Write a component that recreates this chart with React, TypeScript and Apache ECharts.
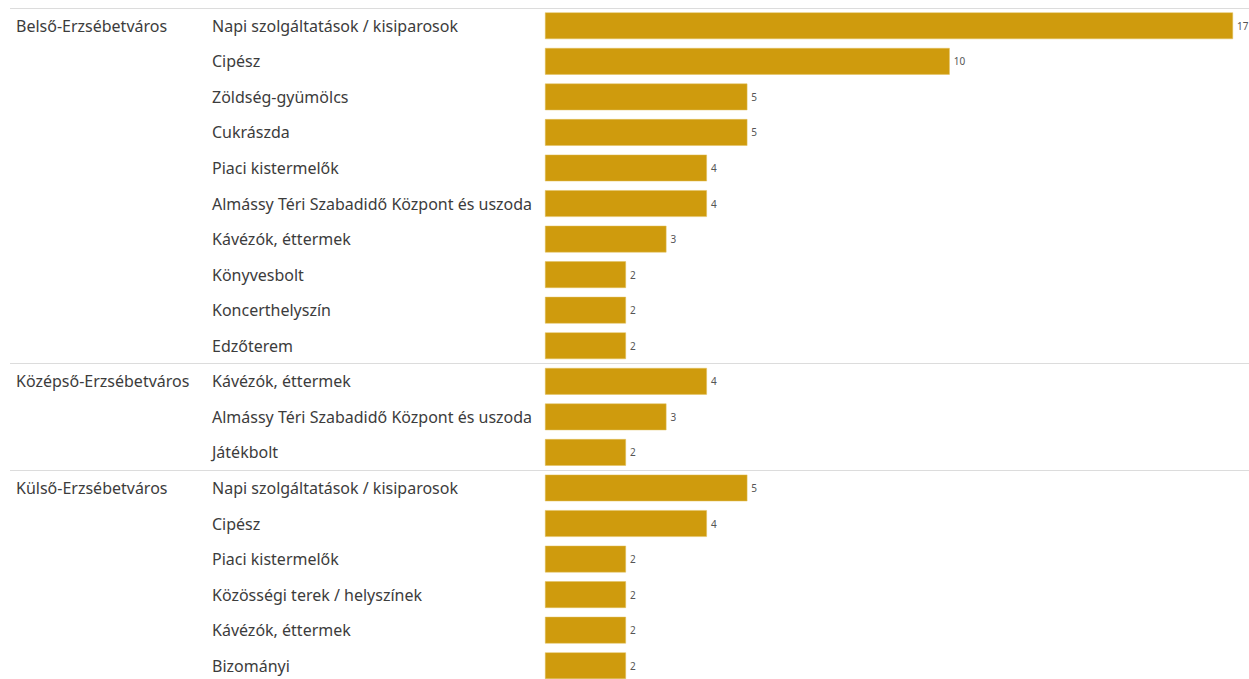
import React, { useEffect, useRef } from "react";
import * as echarts from "echarts";

const groups = ["Belső-Erzsébetváros", "Középső-Erzsébetváros", "Külső-Erzsébetváros"];
const groupCategories = [
  [
    "Napi szolgáltatások / kisiparosok",
    "Cipész",
    "Zöldség-gyümölcs",
    "Cukrászda",
    "Piaci kistermelők",
    "Almássy Téri Szabadidő Központ és uszoda",
    "Kávézók, éttermek",
    "Könyvesbolt",
    "Koncerthelyszín",
    "Edzőterem",
  ],
  ["Kávézók, éttermek", "Almássy Téri Szabadidő Központ és uszoda", "Játékbolt"],
  [
    "Napi szolgáltatások / kisiparosok",
    "Cipész",
    "Piaci kistermelők",
    "Közösségi terek / helyszínek",
    "Kávézók, éttermek",
    "Bizományi",
  ],
];
const groupValues = [
  [17, 10, 5, 5, 4, 4, 3, 2, 2, 2],
  [4, 3, 2],
  [5, 4, 2, 2, 2, 2],
];

const rowLabels: string[] = [];
const rowGroupLabels: string[] = [];
const rowValues: number[] = [];
const groupStarts: number[] = [];
groupCategories.forEach((cats, g) => {
  groupStarts.push(rowLabels.length);
  cats.forEach((c, i) => {
    rowLabels.push(c);
    rowGroupLabels.push(i === 0 ? groups[g] : "");
    rowValues.push(groupValues[g][i]);
  });
});
const rowIds = rowLabels.map((_, i) => String(i));

const FONT = "'Noto Sans', sans-serif";

export default function App() {
  const ref = useRef<HTMLDivElement>(null);
  useEffect(() => {
    if (!ref.current) return;
    const chart = echarts.init(ref.current, undefined, { renderer: "svg" });
    chart.setOption({
      animation: false,
      backgroundColor: "#ffffff",
      grid: [
        { left: 10, right: 0, top: 8, bottom: 6.5 },
        { left: 545, right: 16, top: 8, bottom: 6.5 },
      ],
      xAxis: [
        { gridIndex: 0, type: "value", min: 0, max: 1, show: false },
        { gridIndex: 1, type: "value", min: 0, max: 17, show: false },
      ],
      yAxis: [
        {
          gridIndex: 0,
          type: "category",
          inverse: true,
          data: rowIds,
          axisLine: { show: false },
          axisTick: { show: false },
          axisLabel: {
            inside: true,
            margin: 6,
            formatter: (v: string) => rowGroupLabels[Number(v)],
            color: "#3c3c3c",
            fontFamily: FONT,
            fontSize: 16,
          },
          splitLine: {
            show: true,
            interval: (index: number) => groupStarts.includes(index),
            lineStyle: { color: "#dcdcdc", width: 1 },
          },
        },
        {
          gridIndex: 1,
          type: "category",
          inverse: true,
          data: rowIds,
          axisLine: { show: false },
          axisTick: { show: false },
          splitLine: { show: false },
          axisLabel: {
            margin: 333,
            align: "left",
            formatter: (v: string) => rowLabels[Number(v)],
            color: "#3c3c3c",
            fontFamily: FONT,
            fontSize: 16,
          },
        },
      ],
      series: [
        {
          type: "bar",
          xAxisIndex: 1,
          yAxisIndex: 1,
          data: rowValues,
          barCategoryGap: "25%",
          itemStyle: { color: "#CF9B0D", borderColor: "#E2C15F", borderWidth: 0.5 },
          label: {
            show: true,
            position: "right",
            distance: 4,
            color: "#555555",
            fontFamily: FONT,
            fontSize: 10,
          },
        },
      ],
    });
    return () => chart.dispose();
  }, []);
  return (
    <div style={{ position: "fixed", left: 0, top: 0, width: 1249, height: 679, overflow: "hidden", background: "#fff" }}>
      <div ref={ref} style={{ width: 1249, height: 690 }} />
    </div>
  );
}
